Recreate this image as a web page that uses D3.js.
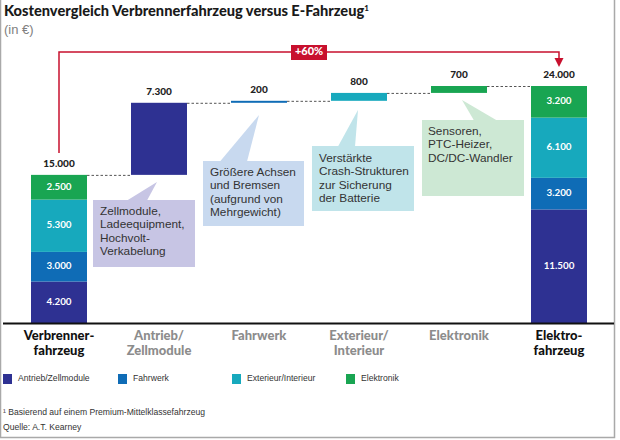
<!DOCTYPE html>
<html><head><meta charset="utf-8">
<script src="https://cdn.jsdelivr.net/npm/d3@7"></script>
<style>
html,body{margin:0;padding:0;background:#fff;}
svg{display:block;}
</style></head>
<body>
<svg id="chart" width="620" height="440"></svg>
<script>
// ---- data ----
const categories = ["Verbrenner-\nfahrzeug", "Antrieb/\nZellmodule", "Fahrwerk", "Exterieur/\nInterieur", "Elektronik", "Elektro-\nfahrzeug"];
const components = ["Antrieb/Zellmodule", "Fahrwerk", "Exterieur/Interieur", "Elektronik"];
const verbrennerValues = [4200, 3000, 5300, 2500];
const deltaValues = [7300, 200, 800, 700];
const elektroValues = [11500, 3200, 6100, 3200];
const changeLabel = "+60%";
const calloutTexts = [
  ["Zellmodule,", "Ladeequipment,", "Hochvolt-", "Verkabelung"],
  ["Größere Achsen", "und Bremsen", "(aufgrund von", "Mehrgewicht)"],
  ["Verstärkte", "Crash-Strukturen", "zur Sicherung", "der Batterie"],
  ["Sensoren,", "PTC-Heizer,", "DC/DC-Wandler"]
];
const title = "Kostenvergleich Verbrennerfahrzeug versus E-Fahrzeug";
const subtitle = "(in €)";
const footnote = "¹ Basierend auf einem Premium-Mittelklassefahrzeug";
const source = "Quelle: A.T. Kearney";

// ---- styles ----
const colors = ["#2e3192", "#0f6cb6", "#17a9bd", "#19a552"];
const calloutColors = ["#c7c5e4", "#c8d9ef", "#c0e4ea", "#cde8d4"];
const red = "#c8102e";
const boldFont = "Lato, 'Open Sans', sans-serif";
const textFont = "'Liberation Sans', Arial, sans-serif";

const de = d3.formatLocale({decimal: ",", thousands: ".", grouping: [3], currency: ["", " €"]});
const fmt = de.format(",d");

const svg = d3.select("#chart");
const W = 620, H = 440;

// frame
svg.append("path").attr("d", `M0.5,0 V${H-2.5} H${W-5.5} V0`).attr("fill", "none").attr("stroke", "#a9a9a9").attr("stroke-width", 1.5);

// titles
svg.append("text").attr("x", 4).attr("y", 16).attr("font-family", boldFont).attr("font-weight", 900)
  .attr("font-size", 14.6).attr("fill", "#1a1a1a").text(title)
  .append("tspan").attr("font-size", 8).attr("dy", -5).text("1");
svg.append("text").attr("x", 4).attr("y", 34).attr("font-family", textFont)
  .attr("font-size", 13).attr("fill", "#808080").text(subtitle);

// scales
const x = d3.scaleBand().domain(categories).range([9, 609]).paddingInner(0.44).paddingOuter(0.22);
const y = d3.scaleLinear().domain([0, 24000]).range([323, 86]);
const bw = x.bandwidth();
const cx = c => x(c) + bw / 2;

// build stacked / waterfall segments
const segs = [];
let acc = 0;
verbrennerValues.forEach((v, i) => { segs.push({cat: categories[0], y0: acc, y1: acc + v, v, i, inside: true}); acc += v; });
const startTotal = acc;
deltaValues.forEach((v, i) => { segs.push({cat: categories[i + 1], y0: acc, y1: acc + v, v, i, inside: false}); acc += v; });
const endTotal = acc;
let acc2 = 0;
elektroValues.forEach((v, i) => { segs.push({cat: categories[5], y0: acc2, y1: acc2 + v, v, i, inside: true}); acc2 += v; });

// callouts (drawn below bars)
const calloutLayout = [
  {box: [93, 200, 102, 67], tip: [157, 182], base: [127, 147], tx: 100, ty: 212},
  {box: [203, 161, 101, 65], tip: [259, 115], base: [220, 247], tx: 210, ty: 173},
  {box: [312, 146, 102, 65], tip: [358, 110], base: [338, 355], tx: 319, ty: 159},
  {box: [422, 120, 102, 76], tip: [462, 100], base: [474, 497], tx: 428, ty: 132}
];
const cg = svg.append("g");
calloutLayout.forEach((L, i) => {
  const g = cg.append("g");
  const [bx, by, bwid, bh] = L.box;
  g.append("rect").attr("x", bx).attr("y", by).attr("width", bwid).attr("height", bh).attr("fill", calloutColors[i]);
  g.append("path").attr("d", `M${L.tip[0]},${L.tip[1]} L${L.base[0]},${by + 0.5} L${L.base[1]},${by + 0.5} Z`).attr("fill", calloutColors[i]);
  const t = g.append("text").attr("font-family", textFont).attr("font-size", 11.8).attr("fill", "#333");
  calloutTexts[i].forEach((line, k) => {
    t.append("tspan").attr("x", L.tx).attr("y", L.ty + k * 13.3).attr("dominant-baseline", "middle").text(line);
  });
});

// dashed connectors
const connectors = [];
let run = startTotal;
connectors.push({from: categories[0], to: categories[1], v: run});
deltaValues.forEach((v, i) => {
  run += v;
  connectors.push({from: categories[i + 1], to: categories[i + 2], v: run});
});
svg.append("g").selectAll("line").data(connectors).join("line")
  .attr("x1", d => x(d.from) + bw).attr("x2", d => x(d.to))
  .attr("y1", d => y(d.v) + 0.5).attr("y2", d => y(d.v) + 0.5)
  .attr("stroke", "#555").attr("stroke-width", 1).attr("stroke-dasharray", "2.5,2");

// bars
svg.append("g").selectAll("rect").data(segs).join("rect")
  .attr("x", d => x(d.cat)).attr("width", bw)
  .attr("y", d => y(d.y1)).attr("height", d => y(d.y0) - y(d.y1))
  .attr("fill", d => colors[d.i]);

// inside labels
svg.append("g").selectAll("text").data(segs.filter(d => d.inside)).join("text")
  .attr("x", d => cx(d.cat)).attr("y", d => (y(d.y0) + y(d.y1)) / 2)
  .attr("text-anchor", "middle").attr("dominant-baseline", "middle")
  .attr("font-family", boldFont).attr("font-weight", 700).attr("font-size", 9.8).attr("fill", "#fff")
  .text(d => fmt(d.v));

// top labels
const topLabels = [{cat: categories[0], top: startTotal, v: startTotal}]
  .concat(segs.filter(d => !d.inside).map(d => ({cat: d.cat, top: d.y1, v: d.v})))
  .concat([{cat: categories[5], top: endTotal, v: endTotal}]);
svg.append("g").selectAll("text").data(topLabels).join("text")
  .attr("x", d => cx(d.cat)).attr("y", d => y(d.top) - 8)
  .attr("text-anchor", "middle")
  .attr("font-family", boldFont).attr("font-weight", 900).attr("font-size", 10).attr("fill", "#222")
  .text(d => fmt(d.v));

// +60% bracket
const bx0 = cx(categories[0]), bx1 = cx(categories[5]);
const bracketY = 52;
svg.append("path")
  .attr("d", `M${bx0},${y(startTotal) - 22} V${bracketY} H${bx1} V${y(endTotal) - 27}`)
  .attr("fill", "none").attr("stroke", red).attr("stroke-width", 1.5);
svg.append("path")
  .attr("d", `M${bx1 - 4.5},${y(endTotal) - 28} L${bx1 + 4.5},${y(endTotal) - 28} L${bx1},${y(endTotal) - 19} Z`)
  .attr("fill", red);
const mid = (bx0 + bx1) / 2;
svg.append("rect").attr("x", mid - 18).attr("y", 45).attr("width", 36).attr("height", 15).attr("fill", red);
svg.append("text").attr("x", mid).attr("y", 52.5).attr("text-anchor", "middle").attr("dominant-baseline", "middle")
  .attr("font-family", boldFont).attr("font-weight", 900).attr("font-size", 11).attr("fill", "#fff").text(changeLabel);

// baseline axis
svg.append("line").attr("x1", 3).attr("x2", 614).attr("y1", 323.5).attr("y2", 323.5).attr("stroke", "#111").attr("stroke-width", 2);

// category labels
const catG = svg.append("g");
categories.forEach((c, i) => {
  const t = catG.append("text").attr("text-anchor", "middle")
    .attr("font-family", boldFont).attr("font-weight", 900).attr("font-size", 13)
    .attr("fill", (i === 0 || i === 5) ? "#111" : "#8c8c8c");
  c.split("\n").forEach((line, k) => {
    t.append("tspan").attr("x", cx(c)).attr("y", 337 + k * 15).attr("dominant-baseline", "middle").text(line);
  });
});

// legend
const legendX = [3, 118, 232, 346];
const lg = svg.append("g");
components.forEach((c, i) => {
  lg.append("rect").attr("x", legendX[i]).attr("y", 374).attr("width", 9).attr("height", 10).attr("fill", colors[i]);
  lg.append("text").attr("x", legendX[i] + 15).attr("y", 379).attr("dominant-baseline", "middle")
    .attr("font-family", textFont).attr("font-size", 8.6).attr("fill", "#333").text(c);
});

// footnotes
svg.append("text").attr("x", 3).attr("y", 413).attr("dominant-baseline", "middle")
  .attr("font-family", textFont).attr("font-size", 8.6).attr("fill", "#333").text(footnote);
svg.append("text").attr("x", 3).attr("y", 428).attr("dominant-baseline", "middle")
  .attr("font-family", textFont).attr("font-size", 8.6).attr("fill", "#333").text(source);
</script>
</body></html>
